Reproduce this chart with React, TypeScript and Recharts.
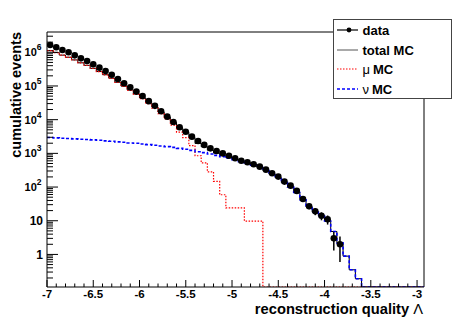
import React from 'react';
import {
  ComposedChart,
  Line,
  Scatter,
  XAxis,
  YAxis,
  ErrorBar,
  ReferenceLine,
  Legend,
  Label,
} from 'recharts';

// ---- binning (categories) ----
const BIN_START = -7;
const BIN_WIDTH = 1 / 15;
const N_BINS = 61;

// ---- series values (cumulative events per bin) ----
const dataCounts = [
  1.65e6, 1.41e6, 1.17e6, 1.0e6, 8.1e5, 6.6e5, 5.5e5, 4.4e5, 3.5e5, 2.79e5,
  2.16e5, 1.61e5, 1.2e5, 9.1e4, 6.8e4, 5.0e4, 3.55e4, 2.57e4, 1.78e4, 1.23e4,
  8500, 5960, 4400, 3130, 2330, 1780, 1410, 1175, 1000, 851,
  716, 603, 543, 473, 403, 328, 257, 204, 145, 110,
  77, 44, 27, 19, 14, 11, 3, 2,
];
const dataErrors = [
  1285, 1187, 1082, 1000, 900, 812, 742, 663, 592, 528,
  465, 401, 346, 302, 261, 224, 188, 160, 133, 111,
  92, 77, 66, 56, 48, 42, 38, 34, 32, 29,
  27, 25, 23, 22, 20, 18, 16, 14, 12, 10.5,
  8.8, 6.6, 5.2, 4.4, 3.7, 3.3, 1.7, 1.4,
];
const muMC = [
  1.12e6, 9.8e5, 8.2e5, 7.1e5, 5.9e5, 4.84e5, 4.07e5, 3.31e5, 2.66e5, 2.14e5,
  1.68e5, 1.27e5, 9.7e4, 7.4e4, 5.6e4, 4.2e4, 3.0e4, 2.19e4, 1.51e4, 1.05e4,
  6900, 4270, 2950, 1700, 850, 525, 282, 148, 59, 24,
  24, 24, 9.8, 9.8, 9.8,
];
const nuMC = [
  2950, 2880, 2820, 2750, 2690, 2630, 2570, 2510, 2450, 2340,
  2290, 2190, 2140, 2040, 2000, 1900, 1820, 1740, 1660, 1580,
  1510, 1410, 1320, 1230, 1120, 1050, 955, 870, 794, 724,
  646, 575, 513, 447, 380, 309, 240, 190, 135, 100,
  69, 42, 26, 18, 13.8, 9.8, 4.8, 2.2, 0.89, 0.35, 0.19,
];
const totalMC = [
  1.123e6, 9.83e5, 8.23e5, 7.13e5, 5.93e5, 4.87e5, 4.1e5, 3.34e5, 2.68e5, 2.16e5,
  1.7e5, 1.29e5, 9.9e4, 7.6e4, 5.8e4, 4.4e4, 3.18e4, 2.36e4, 1.68e4, 1.21e4,
  8410, 5680, 4270, 2930, 1970, 1575, 1237, 1018, 853, 748,
  670, 599, 523, 457, 390, 309, 240, 190, 135, 100,
  69, 42, 26, 18, 13.8, 9.8, 4.8, 2.2, 0.89, 0.35, 0.19,
];

// ---- axes ----
const X_MIN = -7;
const X_MAX = -2.925;
const Y_MIN = 0.108;
const Y_MAX = 4.0e6;

const xMajorTicks = [-7, -6.5, -6, -5.5, -5, -4.5, -4, -3.5, -3];
const xMajorLabels = ['-7', '-6.5', '-6', '-5.5', '-5', '-4.5', '-4', '-3.5', '-3'];
const yMajorTicks = [1, 10, 100, 1e3, 1e4, 1e5, 1e6];
const yMajorExp = [0, 1, 2, 3, 4, 5, 6];

const xTicks: number[] = [];
for (let k = 0; k <= 40; k++) xTicks.push(Math.round((-7 + k * 0.1) * 10) / 10);

const yTicks: number[] = [];
for (let e = -1; e <= 6; e++) {
  for (let m = 1; m <= 9; m++) {
    const v = m * Math.pow(10, e);
    if (v > Y_MIN && v < Y_MAX) yTicks.push(Number(v.toPrecision(3)));
  }
}

const FONT = '"Liberation Sans", Arial, Helvetica, sans-serif';

const stepSeries = (vals: number[]) => {
  const pts: { x: number; y: number }[] = [];
  for (let k = 0; k < N_BINS; k++) {
    const v = k < vals.length ? vals[k] : 0;
    pts.push({ x: BIN_START + k * BIN_WIDTH, y: v > 0 ? v : Y_MIN });
  }
  pts.push({ x: X_MAX, y: pts[pts.length - 1].y });
  return pts;
};

const dataPoints = dataCounts.map((v, i) => ({
  x: BIN_START + (i + 0.5) * BIN_WIDTH,
  y: v,
  err: dataErrors[i],
}));

const XTick = (props: any) => {
  const { x, y, payload } = props;
  const v = payload.value;
  const idx = xMajorTicks.findIndex((t) => Math.abs(t - v) < 1e-6);
  const major = idx >= 0;
  return (
    <g>
      <line x1={x} x2={x} y1={y} y2={y - (major ? 7 : 3.5)} stroke="#000" strokeWidth={1} />
      {major && (
        <text
          x={x}
          y={y + 11}
          textAnchor="middle"
          fontFamily={FONT}
          fontWeight="bold"
          fontSize={11.5}
          fill="#000"
        >
          {xMajorLabels[idx]}
        </text>
      )}
    </g>
  );
};

const YTick = (props: any) => {
  const { x, y, payload } = props;
  const v = payload.value;
  const idx = yMajorTicks.findIndex((t) => Math.abs(t - v) / t < 1e-6);
  const major = idx >= 0;
  const exp = major ? yMajorExp[idx] : 0;
  return (
    <g>
      <line x1={x} x2={x + (major ? 11 : 6)} y1={y} y2={y} stroke="#000" strokeWidth={1} />
      {major && exp <= 1 && (
        <text x={x - 4} y={y + 4.3} textAnchor="end" fontFamily={FONT} fontWeight="bold" fontSize={12} fill="#000">
          {exp === 0 ? '1' : '10'}
        </text>
      )}
      {major && exp > 1 && (
        <text x={x - 5.5} y={y + 4} textAnchor="end" fontFamily={FONT} fontWeight="bold" fontSize={11} fill="#000">
          10
          <tspan dy={-6} fontSize={8.5}>
            {String(exp)}
          </tspan>
        </text>
      )}
    </g>
  );
};

const LegendBox = () => {
  const rows = [11, 31, 50, 70];
  return (
    <svg width={119} height={81} style={{ display: 'block' }}>
      <rect x={0.5} y={0.5} width={118} height={79} fill="#fff" stroke="#444" strokeWidth={1} />
      <line x1={4} x2={25} y1={rows[0]} y2={rows[0]} stroke="#000" strokeWidth={1.2} />
      <circle cx={16} cy={rows[0]} r={2.4} fill="#000" />
      <text x={29.5} y={rows[0] + 4.6} fontFamily={FONT} fontWeight="bold" fontSize={13} fill="#000">
        data
      </text>
      <line x1={4} x2={25} y1={rows[1]} y2={rows[1]} stroke="#555" strokeWidth={1} />
      <text x={29.5} y={rows[1] + 4.6} fontFamily={FONT} fontWeight="bold" fontSize={13} fill="#000">
        total MC
      </text>
      <line x1={4} x2={25} y1={rows[2]} y2={rows[2]} stroke="#ff0000" strokeWidth={1.2} strokeDasharray="1.5 1.5" />
      <text x={29.5} y={rows[2] + 4.6} fontFamily={FONT} fontSize={13} fill="#000">
        <tspan fontWeight="normal">μ</tspan>
        <tspan fontWeight="bold" dx={3}>MC</tspan>
      </text>
      <line x1={4} x2={25} y1={rows[3]} y2={rows[3]} stroke="#0000ff" strokeWidth={1.6} strokeDasharray="3 2" />
      <text x={29.5} y={rows[3] + 4.6} fontFamily={FONT} fontSize={13} fill="#000">
        <tspan fontWeight="normal">ν</tspan>
        <tspan fontWeight="bold" dx={3}>MC</tspan>
      </text>
    </svg>
  );
};

export default function App() {
  return (
    <div style={{ position: 'absolute', left: 0, top: 0, width: 471, height: 319, background: '#fff' }}>
      <ComposedChart
        width={471}
        height={319}
        margin={{ top: 32, right: 47, left: 0, bottom: 0 }}
      >
        <XAxis
          dataKey="x"
          type="number"
          domain={[X_MIN, X_MAX]}
          allowDataOverflow
          ticks={xTicks}
          interval={0}
          tick={<XTick />}
          tickLine={false}
          tickSize={0}
          tickMargin={0}
          height={32}
          axisLine={{ stroke: '#000', strokeWidth: 1 }}
        >
          <Label
            content={() => (
              <text x={423} y={313.5} textAnchor="end" fontFamily={FONT} fontWeight="bold" fontSize={14.7} fill="#000">
                reconstruction quality <tspan fontWeight="normal">Λ</tspan>
              </text>
            )}
          />
        </XAxis>
        <YAxis
          type="number"
          scale="log"
          domain={[Y_MIN, Y_MAX]}
          allowDataOverflow
          ticks={yTicks}
          interval={0}
          tick={<YTick />}
          tickLine={false}
          tickSize={0}
          tickMargin={0}
          width={47}
          axisLine={{ stroke: '#000', strokeWidth: 1 }}
        >
          <Label
            content={() => (
              <text
                x={20.5}
                y={32}
                transform="rotate(-90 20.5 32)"
                textAnchor="end"
                fontFamily={FONT}
                fontWeight="bold"
                fontSize={14.5}
                fill="#000"
              >
                cumulative events
              </text>
            )}
          />
        </YAxis>
        <ReferenceLine y={Y_MAX} stroke="#000" strokeWidth={1} ifOverflow="visible" />
        <ReferenceLine x={X_MAX} stroke="#000" strokeWidth={1} ifOverflow="visible" />
        <Line
          data={stepSeries(totalMC)}
          dataKey="y"
          type="stepAfter"
          stroke="#000"
          strokeWidth={1}
          dot={false}
          activeDot={false}
          isAnimationActive={false}
        />
        <Line
          data={stepSeries(muMC)}
          dataKey="y"
          type="stepAfter"
          stroke="#ff0000"
          strokeWidth={1.2}
          strokeDasharray="1.5 1.5"
          dot={false}
          activeDot={false}
          isAnimationActive={false}
        />
        <Line
          data={stepSeries(nuMC)}
          dataKey="y"
          type="stepAfter"
          stroke="#0000ff"
          strokeWidth={1.6}
          strokeDasharray="3 2"
          dot={false}
          activeDot={false}
          isAnimationActive={false}
        />
        <Scatter
          data={dataPoints}
          dataKey="y"
          fill="#000"
          isAnimationActive={false}
          shape={(p: any) => <circle cx={p.cx} cy={p.cy} r={3.3} fill="#000" />}
        >
          <ErrorBar dataKey="err" direction="y" width={0} stroke="#000" strokeWidth={1.5} />
        </Scatter>
        <Legend
          layout="horizontal"
          verticalAlign="middle"
          align="center"
          content={() => <LegendBox />}
          wrapperStyle={{ left: 333, top: 19, width: 119, height: 81, margin: 0, padding: 0, lineHeight: 0 }}
        />
      </ComposedChart>
    </div>
  );
}
